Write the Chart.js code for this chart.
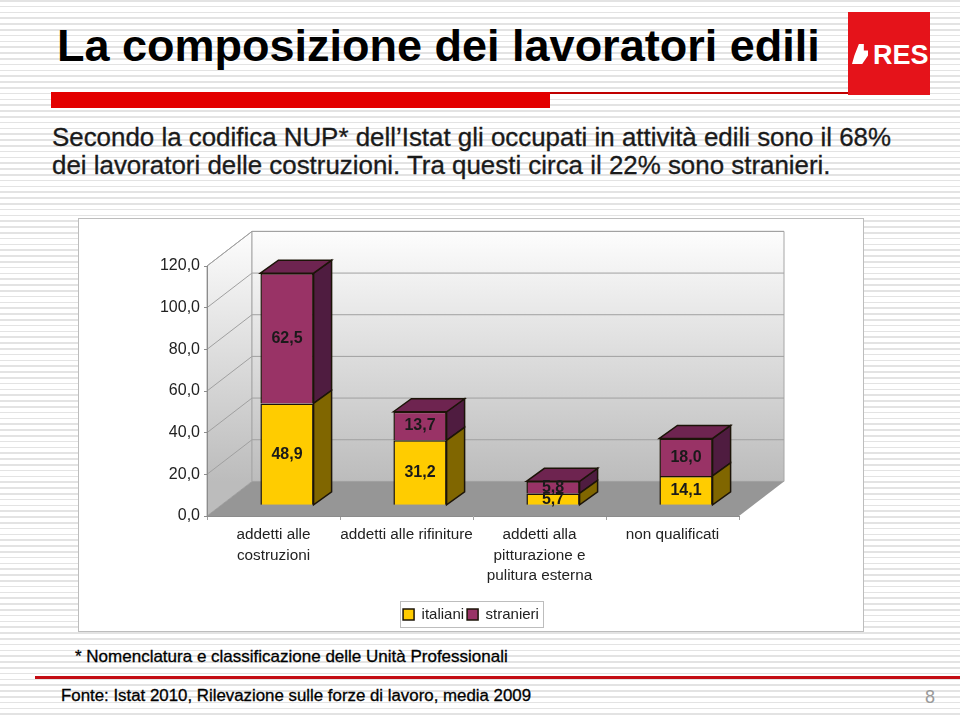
<!DOCTYPE html>
<html lang="it">
<head>
<meta charset="utf-8">
<title>La composizione dei lavoratori edili</title>
<script src="https://cdn.jsdelivr.net/npm/chart.js@4"></script>
<style>
  html, body { margin: 0; padding: 0; }
  body {
    width: 960px; height: 715px; overflow: hidden; position: relative;
    font-family: "Liberation Sans", Arial, sans-serif; color: #111;
    background-color: #fff;
    background-image: repeating-linear-gradient(180deg, #e3e3e3 0, #e3e3e3 1.6px, #fff 1.6px, #fff 5.8px);
  }
  .abs { position: absolute; white-space: nowrap; }
  #title { left: 57px; top: 22px; font-size: 45px; line-height: 48px; font-weight: bold; color: #000; }
  #bar { left: 51px; top: 92px; width: 499px; height: 16px; background: #e30000; }
  #thin { left: 550px; top: 92px; width: 298px; height: 2px; background: #c00000; }
  #logo { left: 848px; top: 12px; width: 82px; height: 83px; background: #e5131a; }
  #logo span { position: absolute; left: 25px; top: 27px; font-size: 27px; line-height: 32px; font-weight: bold; color: #fff; }
  #logo i { position: absolute; left: 4px; top: 32px; width: 16px; height: 20px; background: #fff; clip-path: polygon(43% 0, 74% 0, 74% 33%, 100% 33%, 100% 58%, 64% 100%, 0 100%, 15% 58%); }
  .lead { left: 52px; font-size: 25.9px; line-height: 28px; color: #1a1a1a; -webkit-text-stroke: 0.3px #1a1a1a; }
  #box { left: 78px; top: 218px; width: 784px; height: 412px; background: #fff; border: 1px solid #bdbdbd; }
  #box canvas { position: absolute; left: -1px; top: -1px; }
  #note { left: 75px; top: 647px; font-size: 17px; line-height: 20px; -webkit-text-stroke: 0.3px #000; color: #000; }
  #rule { left: 35px; top: 676px; width: 925px; height: 3px; background: #c40d14; }
  #fonte { left: 61px; top: 686px; font-size: 16.85px; line-height: 20px; -webkit-text-stroke: 0.3px #000; color: #000; }
  #page { left: 925px; top: 687px; font-size: 18px; line-height: 20px; color: #9a9a9a; }
</style>
</head>
<body>
<div class="abs" id="title">La composizione dei lavoratori edili</div>
<div class="abs" id="bar"></div>
<div class="abs" id="thin"></div>
<div class="abs" id="logo"><i></i><span>RES</span></div>
<div class="abs lead" style="top:123px">Secondo la codifica NUP* dell’Istat gli occupati in attività edili sono il 68%</div>
<div class="abs lead" style="top:151px">dei lavoratori delle costruzioni. Tra questi circa il 22% sono stranieri.</div>
<div class="abs" id="box"><canvas id="chart" width="786" height="414"></canvas></div>
<div class="abs" id="note">* Nomenclatura e classificazione delle Unità Professionali</div>
<div class="abs" id="rule"></div>
<div class="abs" id="fonte">Fonte: Istat 2010, Rilevazione sulle forze di lavoro, media 2009</div>
<div class="abs" id="page">8</div>

<script>
const categories = [
  ["addetti alle", "costruzioni"],
  "addetti alle rifiniture",
  ["addetti alla", "pitturazione e", "pulitura esterna"],
  "non qualificati"
];
const italiani = [48.9, 31.2, 5.7, 14.1];
const stranieri = [62.5, 13.7, 5.8, 18.0];
const yTicks = ["0,0", "20,0", "40,0", "60,0", "80,0", "100,0", "120,0"];

// pseudo 3D: walls go back by wall*, bars stand half way in with their own depth
const wallDx = 45, wallDy = 34.6;
const barDx = 18, barDy = 13;
const shiftX = 13.5, shiftY = 10.7;
const colors = {
  italiani: { front: "#ffcc00", side: "#806600", top: "#a88600" },
  stranieri: { front: "#993366", side: "#4f1c40", top: "#6e2450" }
};
const outline = "#1c1408";

function poly(ctx, pts, fill, stroke) {
  ctx.beginPath();
  pts.forEach((p, i) => i ? ctx.lineTo(p[0], p[1]) : ctx.moveTo(p[0], p[1]));
  ctx.closePath();
  if (fill) { ctx.fillStyle = fill; ctx.fill(); }
  if (stroke) { ctx.strokeStyle = stroke; ctx.stroke(); }
}

const box3d = {
  id: "box3d",
  afterLayout(chart) {
    // legend sits in the middle of the whole box, not of the plot
    chart.legend.left = 0;
    chart.legend.right = chart.width;
  },
  beforeDraw(chart) {
    const { ctx, chartArea: a, scales: { y } } = chart;
    const bx = a.left + wallDx, by = a.bottom - wallDy, ty = a.top - wallDy;
    const grad = ctx.createLinearGradient(0, ty, 0, by);
    grad.addColorStop(0, "#fdfdfd");
    grad.addColorStop(1, "#bcbcbc");
    ctx.save();
    ctx.lineWidth = 1;
    poly(ctx, [[a.left, a.top], [bx, ty], [bx, by], [a.left, a.bottom]], grad, "#a6a6a6");
    poly(ctx, [[bx, ty], [a.right + wallDx, ty], [a.right + wallDx, by], [bx, by]], grad, "#a6a6a6");
    poly(ctx, [[a.left, a.bottom], [a.right, a.bottom], [a.right + wallDx, by], [bx, by]], "#969696");
    ctx.strokeStyle = "#a0a0a0";
    y.ticks.forEach(t => {
      if (t.value === 0) return;
      const py = y.getPixelForValue(t.value);
      ctx.beginPath();
      ctx.moveTo(a.left, py);
      ctx.lineTo(bx, py - wallDy);
      ctx.lineTo(a.right + wallDx, py - wallDy);
      ctx.stroke();
    });
    ctx.restore();
  },
  beforeDatasetDraw(chart, args) {
    const { ctx } = chart;
    const c = args.index === 0 ? colors.italiani : colors.stranieri;
    const last = args.index === chart.data.datasets.length - 1;
    ctx.save();
    ctx.translate(shiftX, -shiftY);
    ctx.lineWidth = 1.5;
    args.meta.data.forEach(bar => {
      const r = bar.x + bar.width / 2, l = bar.x - bar.width / 2;
      poly(ctx, [[r, bar.y], [r + barDx, bar.y - barDy], [r + barDx, bar.base - barDy], [r, bar.base]], c.side, outline);
      if (last) poly(ctx, [[l, bar.y], [l + barDx, bar.y - barDy], [r + barDx, bar.y - barDy], [r, bar.y]], c.top, outline);
    });
  },
  afterDatasetDraw(chart) {
    chart.ctx.restore();
  },
  afterDatasetsDraw(chart) {
    const { ctx } = chart;
    ctx.save();
    ctx.font = "bold 16px 'Liberation Sans'";
    ctx.fillStyle = "#1a1a1a";
    ctx.textAlign = "center";
    ctx.textBaseline = "middle";
    chart.data.datasets.forEach((ds, i) => {
      chart.getDatasetMeta(i).data.forEach((bar, j) => {
        ctx.fillText(ds.data[j].toFixed(1).replace(".", ","), bar.x + shiftX, (bar.y + bar.base) / 2 - shiftY);
      });
    });
    ctx.restore();
  },
  afterDraw(chart) {
    // frame round the legend items, the library gives none
    const { ctx, legend } = chart;
    const w = legend.lineWidths[0] + 4;
    const cy = legend.top + 10;
    ctx.save();
    ctx.strokeStyle = "#bdbdbd";
    ctx.lineWidth = 1;
    ctx.strokeRect(Math.round(chart.width / 2 - w / 2) + 0.5, Math.round(cy - 13) + 0.5, Math.round(w), 26);
    ctx.restore();
  }
};

new Chart(document.getElementById("chart"), {
  type: "bar",
  data: {
    labels: categories,
    datasets: [
      { label: "italiani", data: italiani, backgroundColor: colors.italiani.front, borderColor: outline, borderWidth: 1.5, clip: false },
      { label: "stranieri", data: stranieri, backgroundColor: colors.stranieri.front, borderColor: outline, borderWidth: 1.5, clip: false }
    ]
  },
  options: {
    responsive: false,
    animation: false,
    events: [],
    barPercentage: 0.4,
    categoryPercentage: 1,
    layout: { padding: { left: 0, top: 48, right: 125, bottom: 0 } },
    font: { family: "'Liberation Sans'" },
    scales: {
      x: {
        stacked: true,
        afterFit(s) { s.height = 88; },
        border: { color: "#8c8c8c" },
        grid: { drawOnChartArea: false, color: "#a0a0a0", tickLength: 4 },
        ticks: { color: "#222", maxRotation: 0, autoSkip: false, padding: 5, font: { family: "'Liberation Sans'", size: 15.3, lineHeight: 1.33 } }
      },
      y: {
        stacked: true,
        min: 0, max: 120,
        afterFit(s) { s.width = 129; },
        border: { color: "#8c8c8c" },
        grid: { drawOnChartArea: false, color: "#8c8c8c", tickLength: 3 },
        ticks: {
          stepSize: 20, color: "#222", padding: 4,
          font: { family: "'Liberation Sans'", size: 16 },
          callback: (v, i) => yTicks[i]
        }
      }
    },
    plugins: {
      tooltip: { enabled: false },
      legend: {
        position: "bottom",
        labels: {
          boxWidth: 11, boxHeight: 11, padding: 3, color: "#222",
          font: { family: "'Liberation Sans'", size: 15 }
        }
      }
    }
  },
  plugins: [box3d]
});
</script>
</body>
</html>
